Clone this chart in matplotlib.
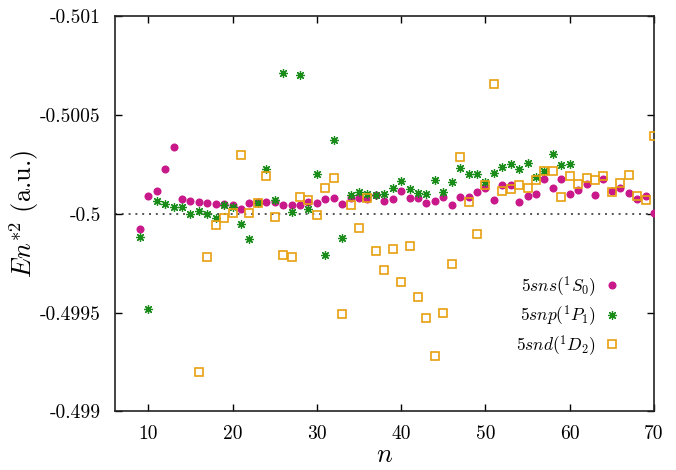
import matplotlib
matplotlib.use("Agg")
import matplotlib.pyplot as plt

plt.rcParams['font.family'] = ['cmr10', 'DejaVu Serif']
plt.rcParams['mathtext.fontset'] = 'cm'
plt.rcParams['axes.unicode_minus'] = False

# 5sns(1S0), n = 9..70
n_s = list(range(9, 71))
e_s = [-0.499921, -0.500090, -0.500116, -0.500225, -0.500339, -0.500073, -0.500064,
       -0.500059, -0.500054, -0.500051, -0.500047, -0.500046, -0.500025, -0.500056,
       -0.500058, -0.500061, -0.500058, -0.500042, -0.500044, -0.500042, -0.500058,
       -0.500052, -0.500074, -0.500078, -0.500049, -0.500081, -0.500081, -0.500074,
       -0.500093, -0.500066, -0.500073, -0.500115, -0.500081, -0.500078, -0.500052,
       -0.500066, -0.500086, -0.500046, -0.500085, -0.500086, -0.500111, -0.500132,
       -0.500069, -0.500145, -0.500147, -0.500058, -0.500090, -0.500100, -0.500174,
       -0.500128, -0.500174, -0.500101, -0.500118, -0.500149, -0.500095, -0.500174,
       -0.500115, -0.500132, -0.500103, -0.500074, -0.500091, -0.500004]

# 5snp(1P1), n = 9..60
n_p = list(range(9, 61))
e_p = [-0.499884, -0.499519, -0.500063, -0.500047, -0.500032, -0.500034, -0.499998,
       -0.500014, -0.499997, -0.499980, -0.500042, -0.500035, -0.499946, -0.499873,
       -0.500052, -0.500225, -0.500068, -0.500712, -0.500009, -0.500703, -0.500022,
       -0.500202, -0.499791, -0.500371, -0.499875, -0.500095, -0.500111, -0.500098,
       -0.500093, -0.500098, -0.500132, -0.500165, -0.500127, -0.500103, -0.500101,
       -0.500171, -0.500111, -0.500159, -0.500231, -0.500202, -0.500201, -0.500162,
       -0.500204, -0.500235, -0.500250, -0.500225, -0.500255, -0.500184, -0.500216,
       -0.500304, -0.500246, -0.500250]

# 5snd(1D2), n = 16..70
n_d = list(range(16, 71))
e_d = [-0.499200, -0.499782, -0.499943, -0.499980, -0.500002, -0.500297, -0.500005,
       -0.500054, -0.500191, -0.499985, -0.499793, -0.499782, -0.500085, -0.500069,
       -0.499995, -0.500130, -0.500181, -0.499494, -0.500042, -0.499929, -0.500081,
       -0.499813, -0.499717, -0.499820, -0.499656, -0.499837, -0.499578, -0.499474,
       -0.499281, -0.499497, -0.499747, -0.500285, -0.500059, -0.499897, -0.500145,
       -0.500656, -0.500113, -0.500127, -0.500147, -0.500132, -0.500169, -0.500218,
       -0.500218, -0.500086, -0.500192, -0.500152, -0.500179, -0.500172, -0.500189,
       -0.500108, -0.500154, -0.500194, -0.500090, -0.500069, -0.500393]

x_ticks = [10, 20, 30, 40, 50, 60, 70]
y_ticks = [-0.501, -0.5005, -0.5, -0.4995, -0.499]
y_labels = ['-0.501', '-0.5005', '-0.5', '-0.4995', '-0.499']

fig = plt.figure(figsize=(6.76, 4.70), dpi=100)
ax = fig.add_axes([0.1694, 0.1245, 0.798, 0.8415])

ax.axhline(-0.5, color='#555555', linestyle=(0, (1, 2.5)), linewidth=1.4, zorder=1)

ax.plot(n_s, e_s, linestyle='none', marker='o', markersize=5.8, color='#c8188a',
        markeredgewidth=0, label=r'$5sns(^1S_0)$', zorder=3)
ax.plot(n_p, e_p, linestyle='none', marker=(8, 2, 0), markersize=6.2, color='#1a8c1a',
        markeredgewidth=0.9, label=r'$5snp(^1P_1)$', zorder=4)
ax.plot(n_d, e_d, linestyle='none', marker='s', markersize=6.2, markerfacecolor='none',
        markeredgecolor='#e8a010', markeredgewidth=1.2, label=r'$5snd(^1D_2)$', zorder=5)

ax.set_xlim(6, 70)
ax.set_ylim(-0.499, -0.501)
ax.set_xticks(x_ticks)
ax.set_xticklabels([str(t) for t in x_ticks])
ax.set_yticks(y_ticks)
ax.set_yticklabels(y_labels)
ax.tick_params(direction='in', top=True, right=True, length=5, width=1,
               labelsize=14, pad=10)
for s in ax.spines.values():
    s.set_linewidth(1.2)
    s.set_color('#222222')

ax.set_xlabel(r'$n$', fontsize=19, labelpad=0)
ax.set_ylabel(r'$En^{*2}$ (a.u.)', fontsize=19, labelpad=-1)

ax.legend(loc='upper right', bbox_to_anchor=(0.952, 0.365), frameon=False,
          markerfirst=False, fontsize=12.5, handlelength=1.0, handletextpad=0.45,
          labelspacing=0.25, borderaxespad=0)

fig.savefig('out.png', dpi=100)
